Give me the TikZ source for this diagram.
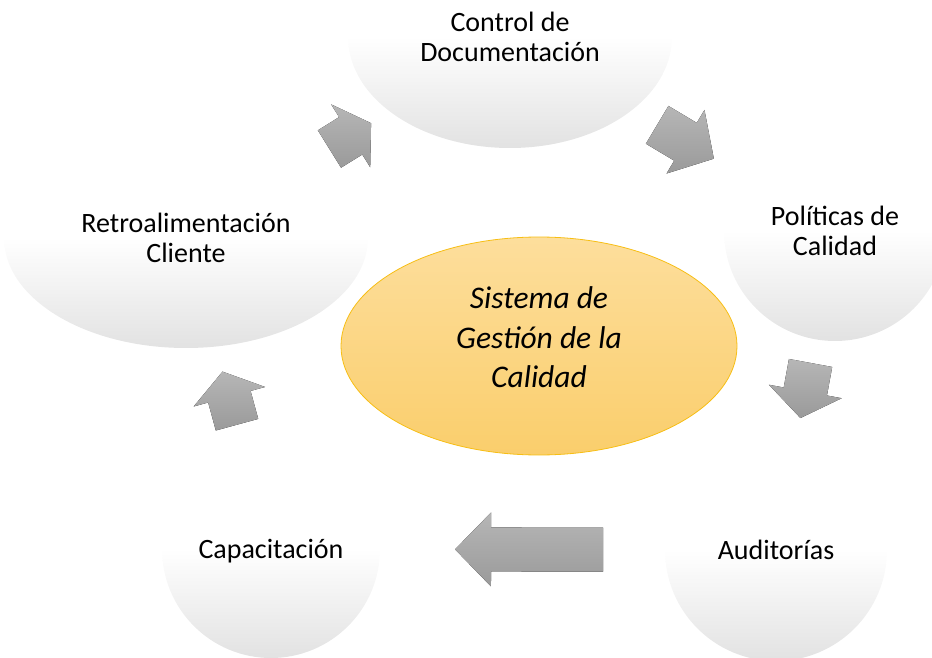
\documentclass[tikz,border=0pt]{standalone}
\usepackage{fontspec}
\setmainfont{Carlito}
\usetikzlibrary{shapes.geometric}
\definecolor{grisclaro}{RGB}{226,226,226}
\definecolor{grisarriba}{RGB}{182,182,182}
\definecolor{grisabajo}{RGB}{154,154,154}
\definecolor{naranjaarriba}{RGB}{253,222,156}
\definecolor{naranjaabajo}{RGB}{250,206,108}
\definecolor{naranjaborde}{RGB}{247,190,20}
\tikzset{pics/flecha/.style args={#1/#2}{code={
  \fill[top color=grisarriba,bottom color=grisabajo] (-#1/2,-22) -- (#1/2-#2,-22) -- (#1/2-#2,-37) -- (#1/2,0) -- (#1/2-#2,37) -- (#1/2-#2,22) -- (-#1/2,22) -- cycle;}}}
\begin{document}
\begin{tikzpicture}[x=1pt,y=-1pt,
  etapa/.style={ellipse,inner sep=0pt,top color=white,bottom color=grisclaro,middle color=white,align=center,font=\fontsize{28}{30}\selectfont},
  nucleo/.style={ellipse,inner sep=0pt,minimum width=396pt,minimum height=218pt,top color=naranjaarriba,bottom color=naranjaabajo,draw=naranjaborde,line width=0.8pt},
  textonucleo/.style={align=center,inner sep=0pt,font=\fontsize{31.5}{39.5}\selectfont\itshape}]
\useasboundingbox (0,0) rectangle (932,658);
\clip (0,0) rectangle (932,658);
\node[etapa,minimum width=364pt,minimum height=220pt] (retro) at (186,238) {Retroalimentación\\Cliente};
\node[etapa,minimum width=324pt,minimum height=222pt] (control) at (510,37) {Control de\\Documentación};
\node[etapa,minimum width=222pt,minimum height=220pt] (politicas) at (835,231) {Políticas de\\Calidad};
\node[etapa,minimum width=222pt,minimum height=222pt] (auditorias) at (776,550) {Auditorías};
\node[etapa,minimum width=218pt,minimum height=218pt,text depth=0pt] (capacitacion) at (271,549) {Capacitación};
\node[nucleo] (sgc) at (539,346) {};
\node[textonucleo] (sgc-txt) at (539,337.5) {Sistema de\\Gestión de la\\Calidad};
\path (retro.center) -- pic[pos=0.507,sloped,allow upside down]{flecha=49/24} (control.center);
\path (control.center) -- pic[pos=0.54,sloped,allow upside down]{flecha=66/33} (politicas.center);
\path (politicas.center) -- pic[pos=0.5,sloped,allow upside down]{flecha=56/27} (auditorias.center);
\path (auditorias.center) -- pic[pos=0.489,sloped,allow upside down]{flecha=148/36} (capacitacion.center);
\path (capacitacion.center) -- pic[pos=0.485,sloped,allow upside down]{flecha=55/26} (retro.center);
\end{tikzpicture}
\end{document}
